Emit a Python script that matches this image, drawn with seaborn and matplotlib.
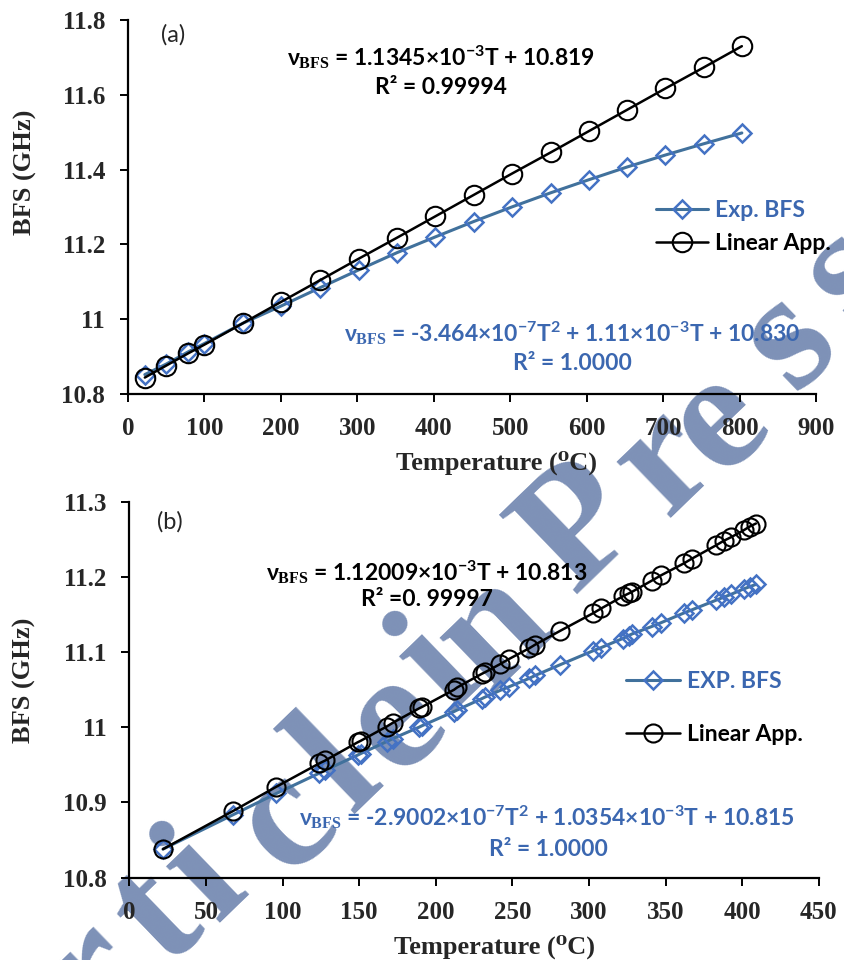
import matplotlib
matplotlib.use("Agg")
import matplotlib.pyplot as plt
import seaborn as sns

# ---- data ----
# (a) 22 - 803 C
temp_a = [22, 50, 79, 100, 151, 200, 251, 302, 352, 402, 452, 502, 553, 603, 653, 703, 753, 803]
exp_a = [10.852, 10.880, 10.913, 10.935, 10.990, 11.035, 11.084, 11.132, 11.178, 11.220,
         11.261, 11.300, 11.338, 11.373, 11.407, 11.439, 11.469, 11.498]
lin_a = [10.844, 10.876, 10.909, 10.932, 10.990, 11.046, 11.104, 11.162, 11.218, 11.275,
         11.332, 11.389, 11.446, 11.503, 11.560, 11.617, 11.673, 11.730]

# (b) 22 - 409 C
temp_b = [22, 68, 96, 124, 128, 149, 151, 168, 172, 189, 191, 212, 214, 230, 232, 242, 248,
          261, 265, 281, 303, 308, 322, 326, 328, 341, 347, 362, 367, 383, 388, 393, 401, 405, 409]
exp_b = [10.838, 10.884, 10.912, 10.939, 10.943, 10.963, 10.965, 10.981, 10.985, 11.000,
         11.002, 11.021, 11.023, 11.038, 11.040, 11.049, 11.054, 11.065, 11.069, 11.083,
         11.102, 11.106, 11.118, 11.122, 11.124, 11.134, 11.139, 11.152, 11.156, 11.169,
         11.173, 11.177, 11.184, 11.187, 11.190]
lin_b = [10.838, 10.889, 10.921, 10.952, 10.956, 10.980, 10.982, 11.001, 11.006, 11.025,
         11.027, 11.050, 11.053, 11.071, 11.073, 11.084, 11.091, 11.105, 11.110, 11.128,
         11.152, 11.158, 11.174, 11.178, 11.180, 11.195, 11.202, 11.218, 11.224, 11.242,
         11.248, 11.253, 11.262, 11.267, 11.271]

xticks_a = [0, 100, 200, 300, 400, 500, 600, 700, 800, 900]
yticks_a = [10.8, 11.0, 11.2, 11.4, 11.6, 11.8]
ylabels_a = ["10.8", "11", "11.2", "11.4", "11.6", "11.8"]
xticks_b = [0, 50, 100, 150, 200, 250, 300, 350, 400, 450]
yticks_b = [10.8, 10.9, 11.0, 11.1, 11.2, 11.3]
ylabels_b = ["10.8", "10.9", "11", "11.1", "11.2", "11.3"]

eq_lin_a = r"$\nu_{\mathbf{BFS}}$ = 1.1345×10$^{-3}$T + 10.819"
r2_lin_a = "R² = 0.99994"
eq_exp_a = r"$\nu_{\mathbf{BFS}}$ = -3.464×10$^{-7}$T$^{2}$ + 1.11×10$^{-3}$T + 10.830"
r2_exp_a = "R² = 1.0000"
eq_lin_b = r"$\nu_{\mathbf{BFS}}$ = 1.12009×10$^{-3}$T + 10.813"
r2_lin_b = "R² =0. 99997"
eq_exp_b = r"$\nu_{\mathbf{BFS}}$ = -2.9002×10$^{-7}$T$^{2}$ + 1.0354×10$^{-3}$T + 10.815"
r2_exp_b = "R² = 1.0000"

LINE_BLUE = "#41719C"
MARK_BLUE = "#4472C4"
TEXT_BLUE = "#3B67B0"
WM = "#7D91B7"

sns.set_style("white")
plt.rcParams["font.family"] = ["Lato", "DejaVu Sans"]
plt.rcParams["mathtext.fontset"] = "custom"
plt.rcParams["mathtext.rm"] = "Lato:bold"
plt.rcParams["mathtext.it"] = "Lato:bold"
plt.rcParams["mathtext.bf"] = "Liberation Serif:bold"

W, H = 844, 960
fig = plt.figure(figsize=(W / 100, H / 100), dpi=100)


def fx(px):
    return px / W


def fy(py):
    return 1 - py / H


ax_a = fig.add_axes([fx(128), fy(394), fx(688), 374 / H])
ax_b = fig.add_axes([fx(129.3), fy(877.7), fx(689.4), 376 / H])

# watermark, drawn under the axes
wm_letters = ["r", "t", "i", "c", "l", "e", "i", "n", "P", "r", "e", "s", "s"]
wm_pos = [(95, 975), (158, 918), (205, 878), (285, 822), (340, 768), (395, 722),
          (438, 668), (495, 632), (582, 530), (665, 462), (718, 422), (790, 340), (850, 275)]
for ch, (px, py) in zip(wm_letters, wm_pos):
    fig.text(fx(px), fy(py), ch, family=["Liberation Serif"], fontweight="bold",
             fontsize=122, color=WM, rotation=44, ha="center", va="center",
             rotation_mode="anchor", zorder=-1)


def panel(ax, t, e, l, exp_label, ms_o, ms_d):
    ax.set_facecolor("none")
    sns.lineplot(x=t, y=e, ax=ax, color=LINE_BLUE, linewidth=2.2, marker="D",
                 markersize=ms_d, markerfacecolor="none", markeredgecolor=MARK_BLUE,
                 markeredgewidth=1.8, label=exp_label, estimator=None, sort=False)
    sns.lineplot(x=t, y=l, ax=ax, color="black", linewidth=1.8, marker="o",
                 markersize=ms_o, markerfacecolor="none", markeredgecolor="black",
                 markeredgewidth=1.5, label="Linear App.", estimator=None, sort=False)
    for s in ["top", "right"]:
        ax.spines[s].set_visible(False)
    for s in ["left", "bottom"]:
        ax.spines[s].set_linewidth(1.6)
        ax.spines[s].set_color("black")
    ax.tick_params(axis="both", direction="out", length=6, width=1.4, color="black",
                   pad=10.5, bottom=True, left=True)


panel(ax_a, temp_a, exp_a, lin_a, "Exp. BFS", 14, 9.2)
panel(ax_b, temp_b, exp_b, lin_b, "EXP. BFS", 13, 9)

ax_a.set_xlim(0, 900)
ax_a.set_ylim(10.8, 11.8)
ax_a.set_xticks(xticks_a)
ax_a.set_yticks(yticks_a, ylabels_a)
ax_b.set_xlim(0, 450)
ax_b.set_ylim(10.8, 11.3)
ax_b.set_xticks(xticks_b)
ax_b.set_yticks(yticks_b, ylabels_b)

for ax in [ax_a, ax_b]:
    for lab in ax.get_xticklabels() + ax.get_yticklabels():
        lab.set_family(["Liberation Serif"])
        lab.set_fontweight("bold")
        lab.set_fontsize(18)
    ax.set_xlabel("Temperature (⁰C)", family=["Liberation Serif", "DejaVu Serif"],
                  fontweight="bold", fontsize=19)
    ax.set_ylabel("BFS (GHz)", family=["Liberation Serif"], fontweight="bold", fontsize=19)

ax_a.xaxis.set_label_coords(0.535, -0.152)
ax_a.yaxis.set_label_coords(-0.132, 0.594)
ax_b.xaxis.set_label_coords(0.530, -0.152)
ax_b.yaxis.set_label_coords(-0.135, 0.526)

# legends
leg_a = ax_a.legend(loc="center left", bbox_to_anchor=(fx(656), fy(227)),
                    bbox_transform=fig.transFigure, frameon=False, borderpad=0,
                    borderaxespad=0, handlelength=2.26, handletextpad=0.3,
                    labelspacing=0.52, prop={"family": ["Lato"], "weight": "bold", "size": 16.5})
leg_b = ax_b.legend(loc="center left", bbox_to_anchor=(fx(626), fy(708)),
                    bbox_transform=fig.transFigure, frameon=False, borderpad=0,
                    borderaxespad=0, handlelength=2.35, handletextpad=0.3,
                    labelspacing=1.43, prop={"family": ["Lato"], "weight": "bold", "size": 16.5})
for leg in [leg_a, leg_b]:
    leg.get_texts()[0].set_color(TEXT_BLUE)
    leg.get_texts()[1].set_color("black")

# panel tags and fit equations
fig.text(fx(173), fy(35), "(a)", fontsize=17, ha="center", va="center")
fig.text(fx(170), fy(522), "(b)", fontsize=17, ha="center", va="center")

eq_kw = dict(fontsize=16.5, fontweight="bold", ha="center", va="center", zorder=5)
fig.text(fx(441), fy(57), eq_lin_a, color="black", **eq_kw)
fig.text(fx(441), fy(87), r2_lin_a, color="black", **eq_kw)
fig.text(fx(572), fy(333), eq_exp_a, color=TEXT_BLUE, **eq_kw)
fig.text(fx(572), fy(363), r2_exp_a, color=TEXT_BLUE, **eq_kw)
fig.text(fx(427), fy(572), eq_lin_b, color="black", **eq_kw)
fig.text(fx(427), fy(600), r2_lin_b, color="black", **eq_kw)
fig.text(fx(547), fy(817), eq_exp_b, color=TEXT_BLUE, **eq_kw)
fig.text(fx(548), fy(850), r2_exp_b, color=TEXT_BLUE, **eq_kw)

fig.savefig("out.png", dpi=100)
